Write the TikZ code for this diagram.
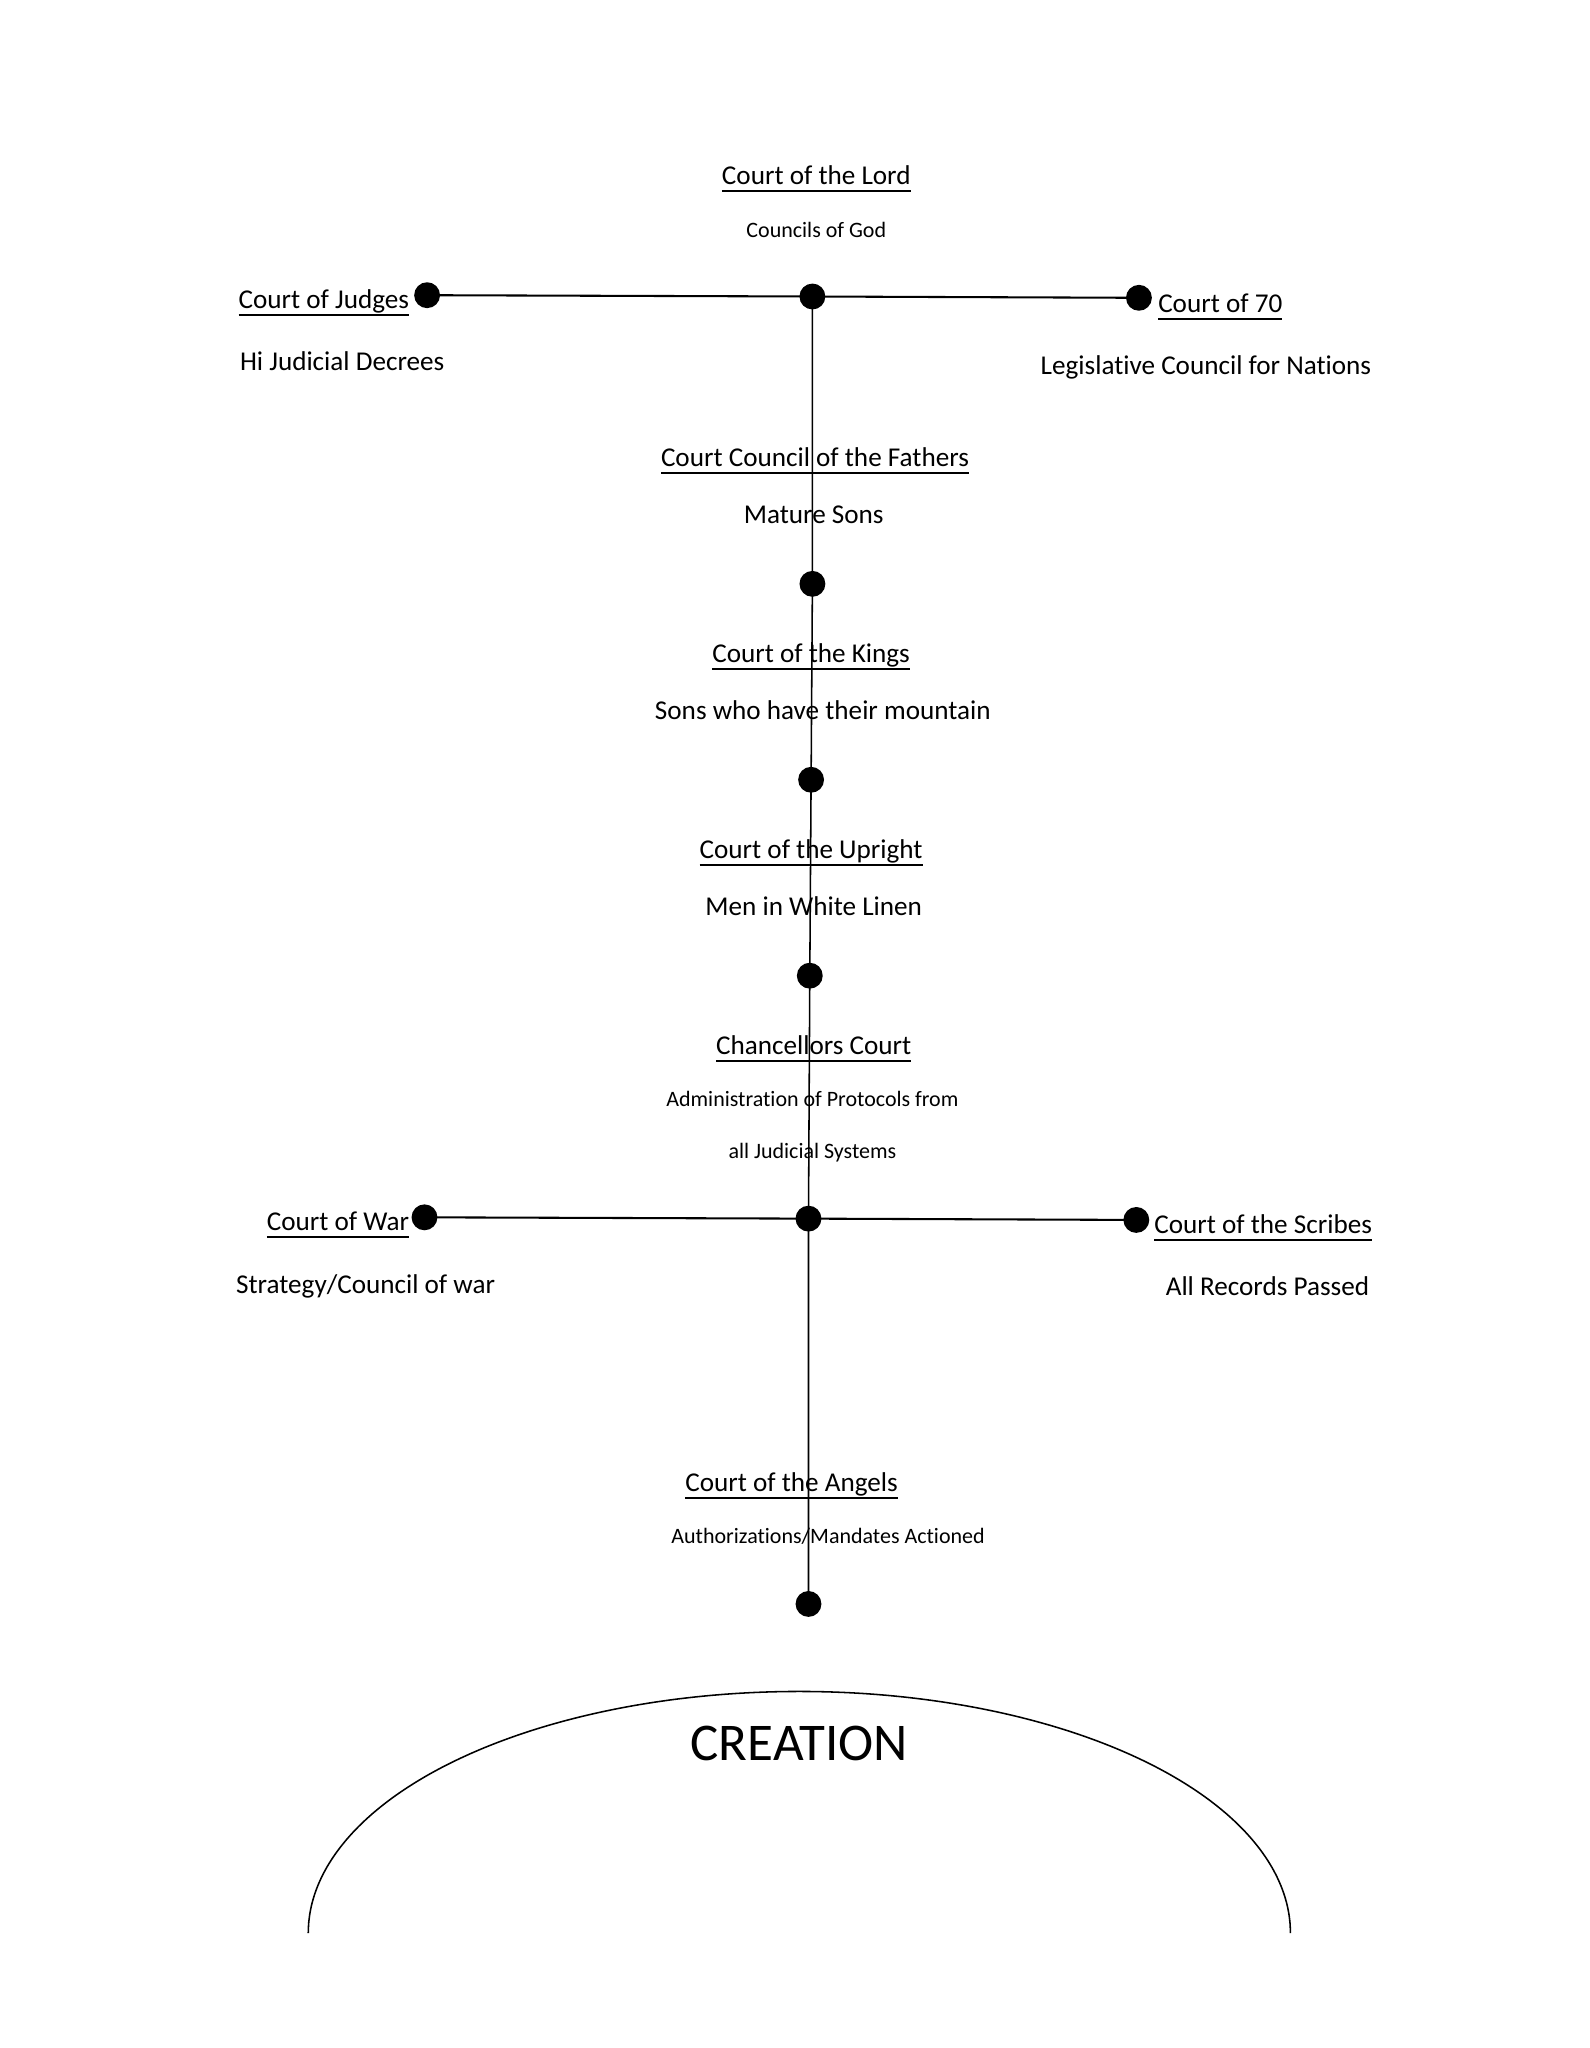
\documentclass[tikz,border=0pt]{standalone}
\usepackage{fontspec}
\setmainfont{Carlito}[Ligatures=NoCommon]
\usepackage{tikz}
\usetikzlibrary{positioning}

\newcommand{\courtline}[1]{\setbox0\hbox{#1}\rlap{\rule[-2.9pt]{\wd0}{0.75pt}}\box0}

\begin{document}
\begin{tikzpicture}[x=0.01774cm, y=-0.01774cm, thick,
    court/.style={inner sep=0pt, anchor=base, font=\fontsize{10.5}{12}\selectfont},
    remit/.style={inner sep=0pt, anchor=base, font=\fontsize{10.5}{12}\selectfont},
    smallremit/.style={inner sep=0pt, anchor=base, font=\fontsize{8.5}{10}\selectfont},
    dot/.style={fill, circle, inner sep=0pt, minimum size=10}]
    \useasboundingbox (0,0) rectangle (1217,1568);

    % Joints
    \coordinate (jlord) at (622,227);
    \coordinate (jjudges) at (327,226);
    \coordinate (jseventy) at (872,228);
    \coordinate (jfathers) at (622,447);
    \coordinate (jkings) at (621,597);
    \coordinate (jupright) at (620,747);
    \coordinate (jchancel) at (619,933);
    \coordinate (jwar) at (325,932);
    \coordinate (jscribes) at (870,934);
    \coordinate (jangels) at (619,1228);

    % Nodes
    \node[court] (lord) at (625,141) {\courtline{Court of the Lord}};
    \node[smallremit] (lordsub) at (625,182) {Councils of God};

    \node[court, anchor=base east] (judges) at (314,236) {\courtline{Court of Judges}};
    \node[remit, anchor=base west] (judgessub) at (183,284) {Hi Judicial Decrees};

    \node[court, anchor=base west] (seventy) at (886,239) {\courtline{Court of 70}};
    \node[remit, anchor=base west] (seventysub) at (796,287) {Legislative Council for Nations};

    \node[court] (fathers) at (624,357) {\courtline{Court Council of the Fathers}};
    \node[remit] (fatherssub) at (623,401) {Mature Sons};

    \node[court] (kings) at (621,507) {\courtline{Court of the Kings}};
    \node[remit] (kingssub) at (630,551) {Sons who have their mountain};

    \node[court] (upright) at (621,657) {\courtline{Court of the Upright}};
    \node[remit] (uprightsub) at (623,701) {Men in White Linen};

    \node[court] (chancel) at (623,807) {\courtline{Chancellors Court}};
    \node[smallremit] (chancelsub) at (622,847) {Administration of Protocols from};
    \node[smallremit] (chancelsubb) at (622,887) {all Judicial Systems};

    \node[court, anchor=base east] (war) at (314,942) {\courtline{Court of War}};
    \node[remit, anchor=base west] (warsub) at (180,990) {Strategy/Council of war};

    \node[court, anchor=base west] (scribes) at (883,944) {\courtline{Court of the Scribes}};
    \node[remit, anchor=base east] (scribessub) at (1049,992) {All Records Passed};

    \node[court] (angels) at (606,1142) {\courtline{Court of the Angels}};
    \node[smallremit] (angelssub) at (634,1182) {Authorizations/Mandates Actioned};

    \node[inner sep=0pt, font=\fontsize{20.5}{24}\selectfont] (creation) at (612,1335) {CREATION};

    % Connections
    \draw (jjudges) -- (jlord) -- (jseventy);
    \draw (jwar) -- (jchancel) -- (jscribes);
    \draw[semithick] (jlord) -- (jfathers) -- (jkings) -- (jupright) -- (jchancel) -- (jangels);

    \foreach \j in {jlord, jjudges, jseventy, jfathers, jkings, jupright, jchancel, jwar, jscribes, jangels}
        \node[dot] at (\j) {};

    % Creation dome
    \draw[semithick] plot[domain=180:0, samples=80, smooth] ({612+376*cos(\x)}, {1480-185*sin(\x)});
\end{tikzpicture}
\end{document}
